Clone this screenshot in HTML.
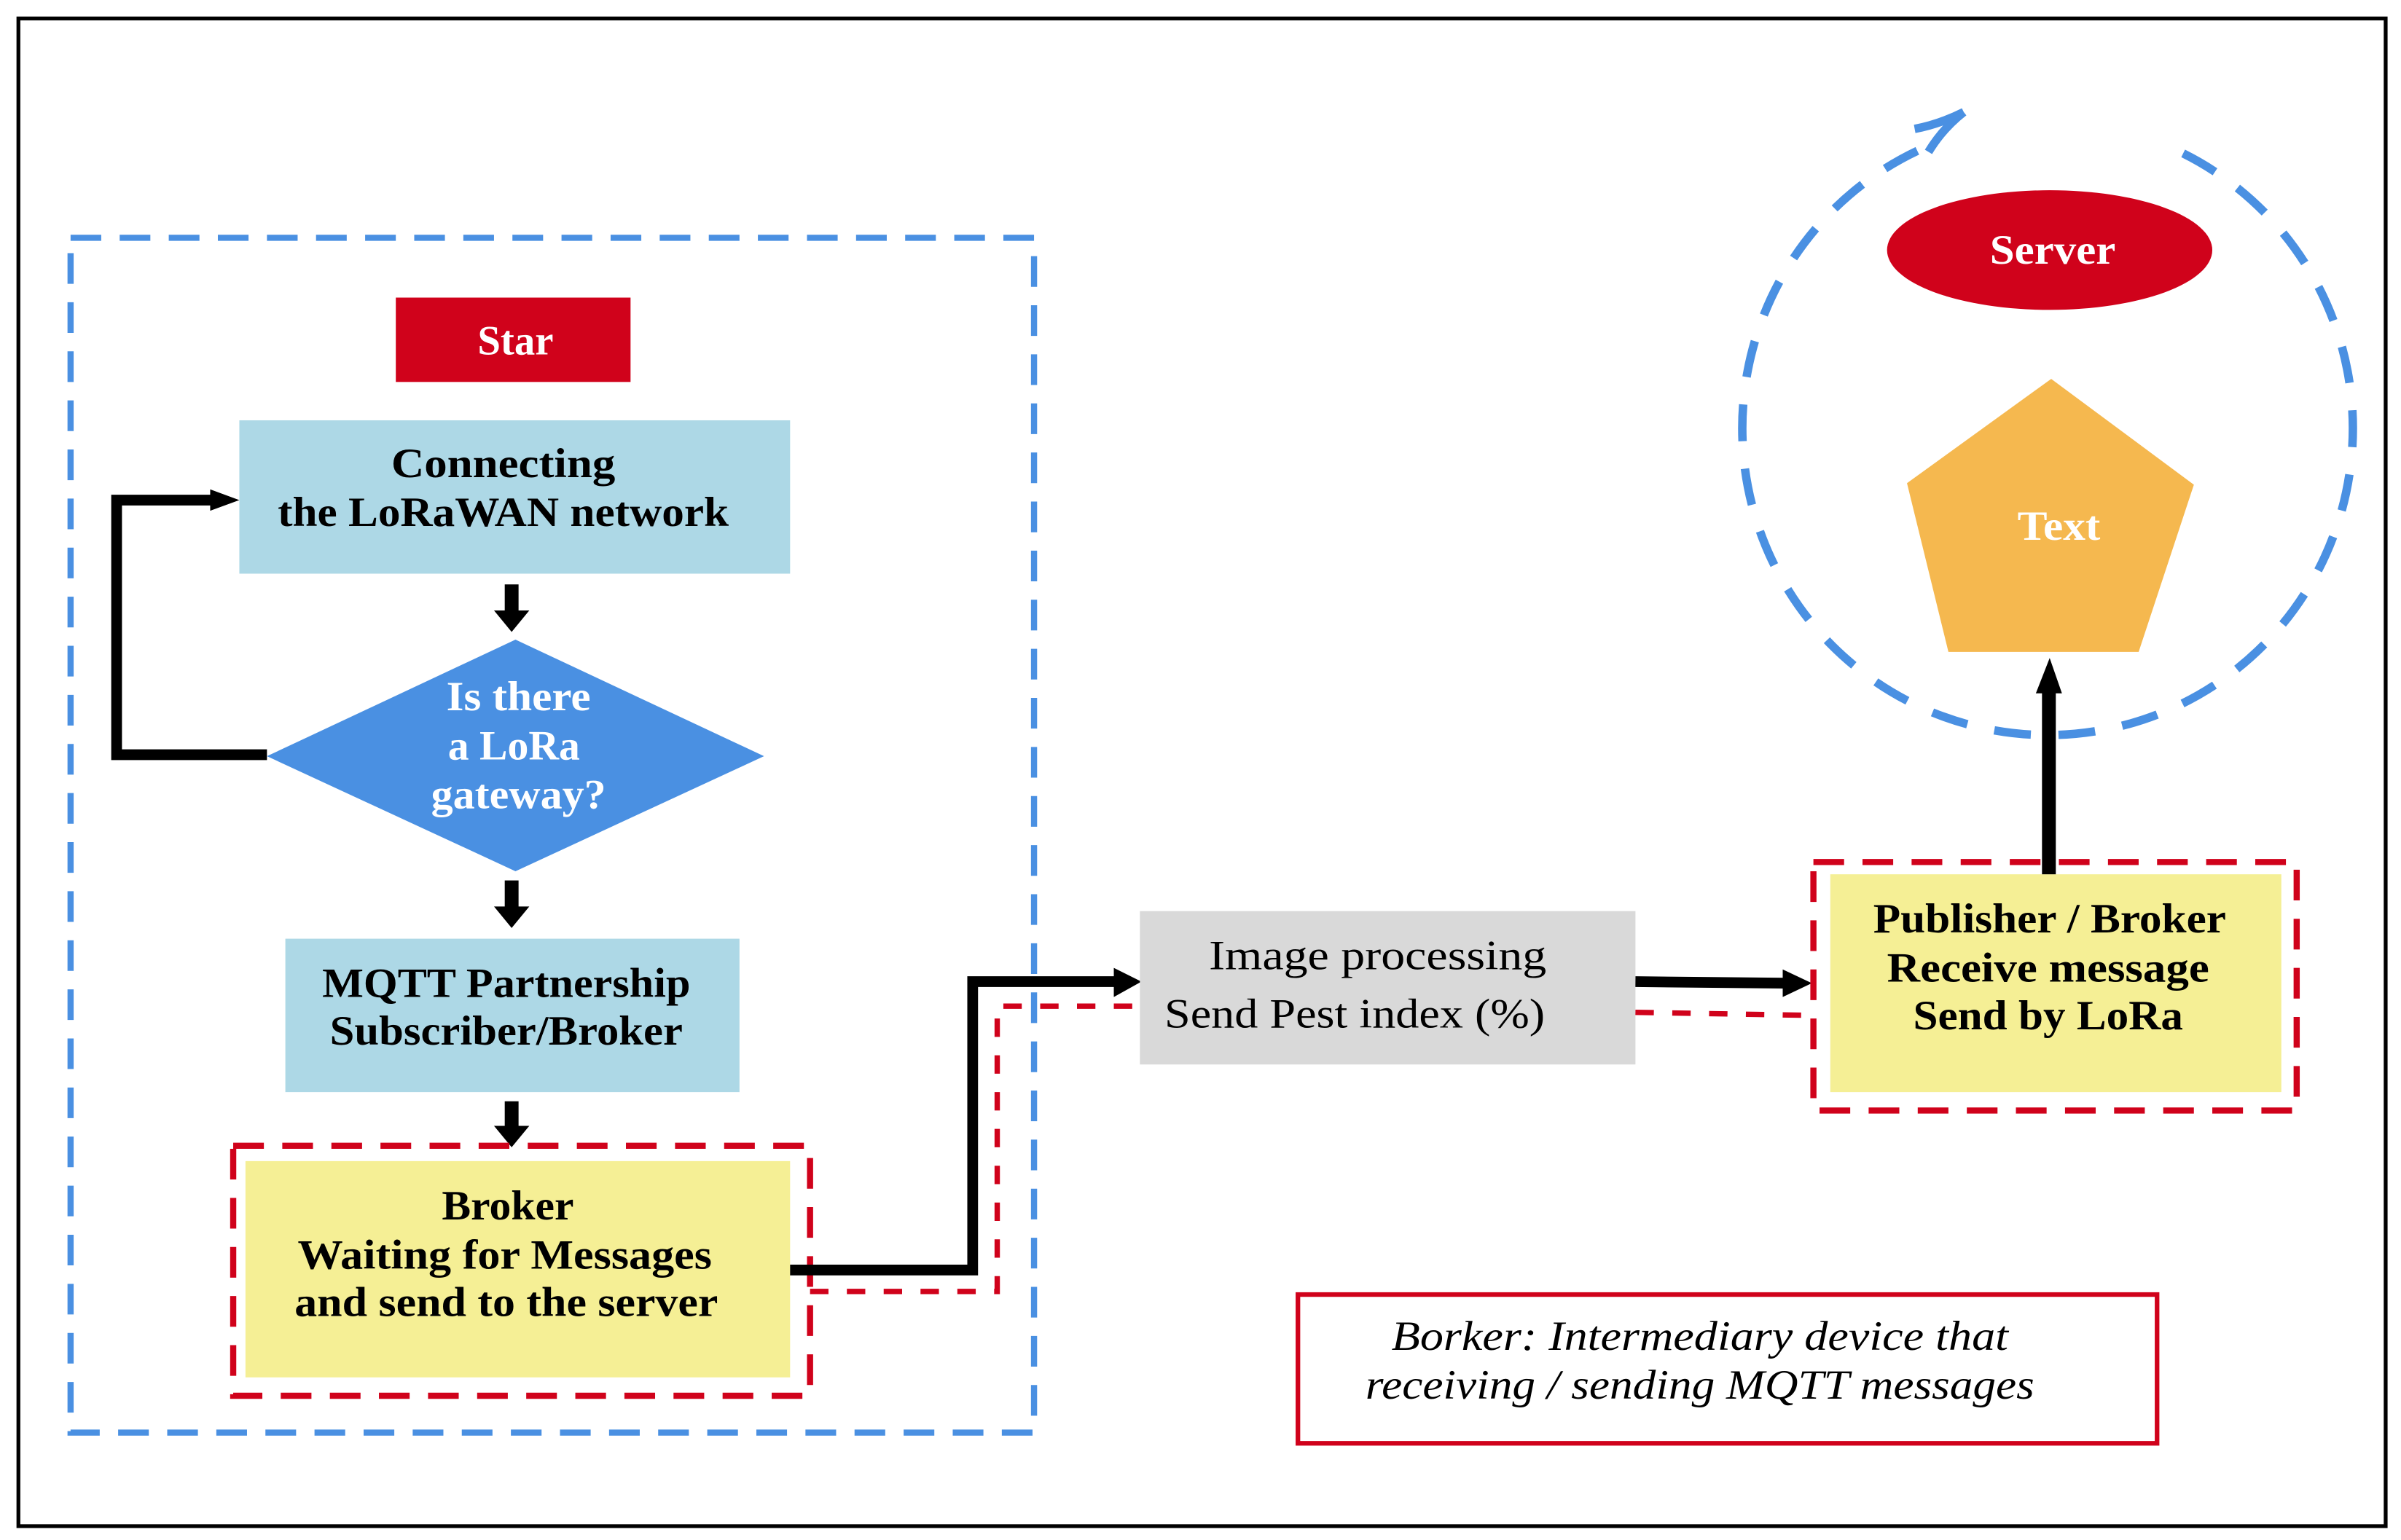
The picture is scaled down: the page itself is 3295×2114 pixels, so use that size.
<!DOCTYPE html>
<html><head><meta charset="utf-8"><style>
html,body{margin:0;padding:0;background:#fff}
svg{display:block}
text{font-family:"Liberation Serif",serif;font-weight:bold;font-size:27px}
</style></head><body>
<svg width="3295" height="2114" viewBox="0 0 1565 1004" xmlns="http://www.w3.org/2000/svg">
<rect x="0" y="0" width="1565" height="1004" fill="#fff"/>
<rect x="12" y="12" width="1543" height="983" fill="none" stroke="#000" stroke-width="2.5"/>
<!-- blue dashed group -->
<rect x="46" y="155" width="628" height="779" fill="none" stroke="#4a90e2" stroke-width="4" stroke-dasharray="20 12"/>
<!-- Star -->
<rect x="258" y="194" width="153" height="55" fill="#d0021b"/>
<text x="336" y="231" fill="#fff" text-anchor="middle">Star</text>
<!-- Connecting -->
<rect x="156" y="274" width="359" height="100" fill="#add8e6"/>
<text x="328" y="311" text-anchor="middle" textLength="146" lengthAdjust="spacingAndGlyphs">Connecting</text>
<text x="328" y="343" text-anchor="middle" textLength="294" lengthAdjust="spacingAndGlyphs">the LoRaWAN network</text>
<!-- arrows down -->
<g fill="#000">
<rect x="329" y="381" width="9" height="18"/><polygon points="322,398 345,398 333.5,412"/>
<rect x="329" y="574" width="9" height="18"/><polygon points="322,591 345,591 333.5,605"/>
<rect x="329" y="718" width="9" height="17"/><polygon points="322,734 345,734 333.5,748"/>
</g>
<!-- diamond -->
<polygon points="336,417 498,493 336,568 174,493" fill="#4a90e2"/>
<text x="338" y="463" fill="#fff" text-anchor="middle" textLength="94" lengthAdjust="spacingAndGlyphs">Is there</text>
<text x="335" y="495" fill="#fff" text-anchor="middle" textLength="86" lengthAdjust="spacingAndGlyphs">a LoRa</text>
<text x="338" y="527" fill="#fff" text-anchor="middle" textLength="114" lengthAdjust="spacingAndGlyphs">gateway?</text>
<!-- loop -->
<polyline points="174,492 76,492 76,326 140,326" fill="none" stroke="#000" stroke-width="7"/>
<polygon points="137,319 156,326 137,333" fill="#000"/>
<!-- MQTT -->
<rect x="186" y="612" width="296" height="100" fill="#add8e6"/>
<text x="330" y="650" text-anchor="middle" textLength="240" lengthAdjust="spacingAndGlyphs">MQTT Partnership</text>
<text x="330" y="681" text-anchor="middle" textLength="230" lengthAdjust="spacingAndGlyphs">Subscriber/Broker</text>
<!-- Broker -->
<rect x="160" y="757" width="355" height="141" fill="#f5ef95"/>
<rect x="152" y="747" width="376" height="163" fill="none" stroke="#d0021b" stroke-width="4" stroke-dasharray="20 12"/>
<text x="331" y="795" text-anchor="middle" textLength="86" lengthAdjust="spacingAndGlyphs">Broker</text>
<text x="329" y="827" text-anchor="middle" textLength="270" lengthAdjust="spacingAndGlyphs">Waiting for Messages</text>
<text x="330" y="858" text-anchor="middle" textLength="276" lengthAdjust="spacingAndGlyphs">and send to the server</text>
<!-- connector to image processing -->
<polyline points="515,828 634,828 634,640 728,640" fill="none" stroke="#000" stroke-width="7"/>
<polygon points="726,631 744,640 726,650" fill="#000"/>
<polyline points="528,842 650,842 650,656 743,656" fill="none" stroke="#d0021b" stroke-width="3.5" stroke-dasharray="12 12"/>
<!-- image processing -->
<rect x="743" y="594" width="323" height="100" fill="#d9d9d9"/>
<text x="898" y="632" text-anchor="middle" style="font-weight:normal" textLength="220" lengthAdjust="spacingAndGlyphs">Image processing</text>
<text x="883" y="670" text-anchor="middle" style="font-weight:normal" textLength="248" lengthAdjust="spacingAndGlyphs">Send Pest index (%)</text>
<polyline points="1066,640 1165,641" fill="none" stroke="#000" stroke-width="7"/>
<polygon points="1162,632 1181,641 1162,650" fill="#000"/>
<polyline points="1066,660 1182,662" fill="none" stroke="#d0021b" stroke-width="3.5" stroke-dasharray="12 12"/>
<!-- publisher -->
<rect x="1193" y="570" width="294" height="142" fill="#f5ef95"/>
<rect x="1182" y="562" width="315" height="162" fill="none" stroke="#d0021b" stroke-width="4" stroke-dasharray="20 12"/>
<text x="1336" y="608" text-anchor="middle" textLength="230" lengthAdjust="spacingAndGlyphs">Publisher / Broker</text>
<text x="1335" y="640" text-anchor="middle" textLength="210" lengthAdjust="spacingAndGlyphs">Receive message</text>
<text x="1335" y="671" text-anchor="middle" textLength="176" lengthAdjust="spacingAndGlyphs">Send by LoRa</text>
<!-- arrow up -->
<rect x="1331" y="450" width="9" height="120" fill="#000"/>
<polygon points="1327,452 1344,452 1336,429" fill="#000"/>
<!-- dashed circle -->
<path d="M1423,100 A199,200 0 1 1 1262,93" fill="none" stroke="#4a90e2" stroke-width="5.5" stroke-dasharray="24 18"/>
<path d="M1248,84 Q1264,81 1280,73 M1280,73 Q1266,84 1257,99" fill="none" stroke="#4a90e2" stroke-width="5.5"/>
<!-- server -->
<ellipse cx="1336" cy="163" rx="106" ry="39" fill="#d0021b"/>
<text x="1338" y="172" fill="#fff" text-anchor="middle" textLength="82" lengthAdjust="spacingAndGlyphs">Server</text>
<polygon points="1337,247 1430,316 1394,425 1270,425 1243,315" fill="#f5b84f"/>
<text x="1342" y="352" fill="#fff" text-anchor="middle" textLength="54" lengthAdjust="spacingAndGlyphs">Text</text>
<!-- legend -->
<rect x="846" y="844" width="560" height="97" fill="none" stroke="#d0021b" stroke-width="3"/>
<text x="1108" y="880" text-anchor="middle" style="font-weight:normal;font-style:italic" textLength="402" lengthAdjust="spacingAndGlyphs">Borker: Intermediary device that</text>
<text x="1108" y="912" text-anchor="middle" style="font-weight:normal;font-style:italic" textLength="436" lengthAdjust="spacingAndGlyphs">receiving / sending MQTT messages</text>
</svg>
</body></html>
